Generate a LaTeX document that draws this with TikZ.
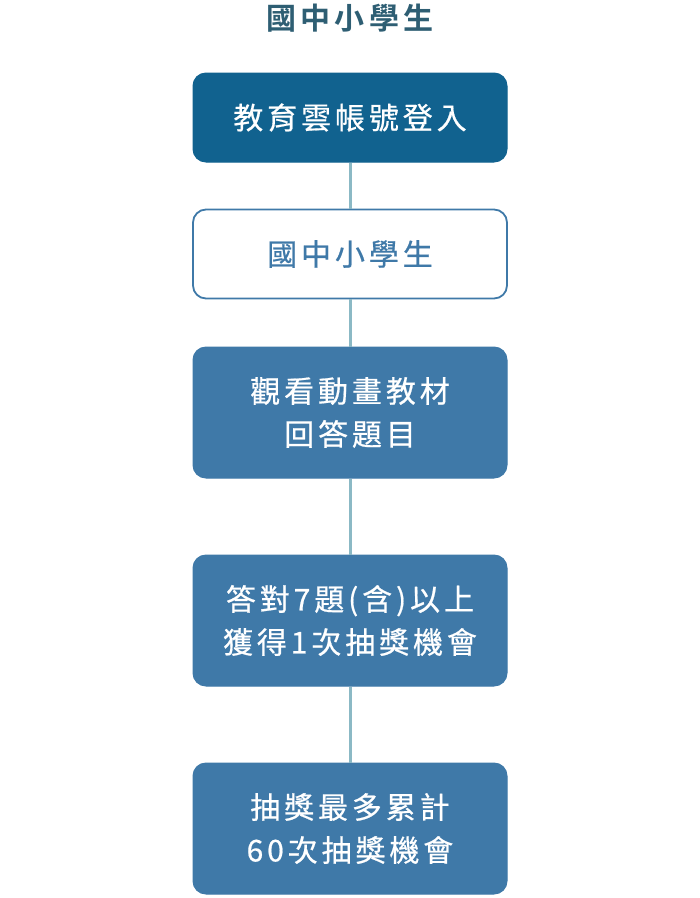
\documentclass[tikz,border=0pt]{standalone}
\usepackage{fontspec}
\newfontfamily\cjk[LetterSpace=13,FakeBold=0.6]{Noto Sans CJK TC}
\newfontfamily\cjkb[LetterSpace=14,BoldFont={* Bold}]{Noto Sans CJK TC}
\definecolor{titlec}{HTML}{2E5E73}
\definecolor{darkbox}{HTML}{11628F}
\definecolor{midbox}{HTML}{3F79A8}
\definecolor{linkc}{HTML}{8BB9C5}
\tikzset{
  box/.style={rounded corners=13pt, minimum width=314pt, align=center, text width=314pt, inner sep=0pt, font=\cjk\fontsize{30pt}{43pt}\selectfont},
  darkstep/.style={box, fill=darkbox, draw=darkbox, line width=1pt, text=white, minimum height=89pt},
  whitestep/.style={box, fill=white, draw=midbox, line width=1.8pt, text=midbox, minimum height=89pt},
  midstep/.style={box, fill=midbox, draw=midbox, line width=1pt, text=white, minimum height=131pt},
  link/.style={draw=linkc, line width=3pt}
}
\begin{document}
\begin{tikzpicture}[x=1pt,y=-1pt]
\useasboundingbox (0,0) rectangle (700,898);
\node[font=\cjkb\bfseries\fontsize{30pt}{30pt}\selectfont, text=titlec, inner sep=0pt] (title) at (350,18) {國中小學生};
\node[darkstep] (b1) at (350,117.5) {教育雲帳號登入};
\node[whitestep] (b2) at (350,254) {國中小學生};
\node[midstep] (b3) at (350,412.5) {觀看動畫教材\\回答題目};
\node[midstep] (b4) at (350,620.5) {答對7題(含)以上\\獲得1次抽獎機會};
\node[midstep] (b5) at (350,828.5) {抽獎最多累計\\60次抽獎機會};
\draw[link] (b1.south) -- (b2.north);
\draw[link] (b2.south) -- (b3.north);
\draw[link] (b3.south) -- (b4.north);
\draw[link] (b4.south) -- (b5.north);
\end{tikzpicture}
\end{document}
